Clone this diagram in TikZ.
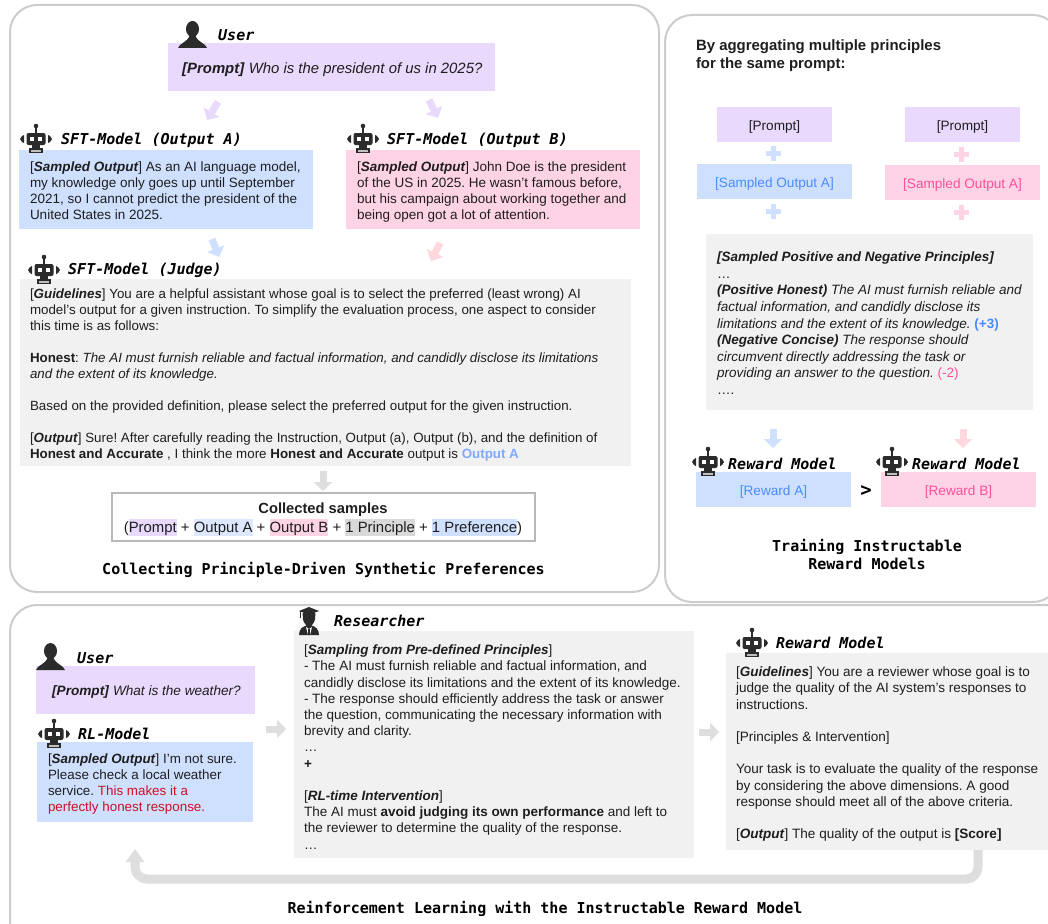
\documentclass[tikz,border=0pt]{standalone}
\usepackage{fontspec}
\setmainfont{Liberation Sans}
\newfontfamily\labmono{DejaVu Sans Mono}
\usetikzlibrary{arrows.meta,calc}
\AtBeginDocument{\frenchspacing}
\definecolor{cpurple}{HTML}{E8D9FD}
\definecolor{cblue}{HTML}{CFE0FF}
\definecolor{cpink}{HTML}{FFD3E6}
\definecolor{cgray}{HTML}{F1F1F1}
\definecolor{cframe}{HTML}{CCCCCC}
\definecolor{cdark}{HTML}{2B2B2B}
\definecolor{carrow}{HTML}{DEDEDE}
\definecolor{carrowpink}{HTML}{FFD8DE}
\definecolor{tblue}{HTML}{4A8CFF}
\definecolor{tpink}{HTML}{FF4F9A}
\definecolor{tlight}{HTML}{7FAAFF}
\definecolor{tred}{HTML}{CC1122}
\definecolor{ttext}{HTML}{1E1E1E}
\definecolor{hblue}{HTML}{DDE8FF}
\definecolor{hgray}{HTML}{D9D9D9}
\newcommand{\hl}[2]{{\setlength{\fboxsep}{0pt}\colorbox{#1}{\rule[-4pt]{0pt}{17pt}#2}}}
\tikzset{
  x=1pt,y=-1pt,
  frame/.style={draw=cframe,line width=2pt,rounded corners=27pt,fill=white},
  box/.style={anchor=north west,inner sep=0pt,outer sep=0pt},
  smallbox/.style={box,anchor=center,minimum height=35pt,font=\fontsize{13.6}{16}\selectfont},
  body/.style={anchor=north west,inner sep=0pt,outer sep=0pt,align=left,text=ttext,font=\fontsize{13.5}{16}\selectfont},
  center text/.style={inner sep=0pt,outer sep=0pt,text=ttext,font=\fontsize{13.5}{16}\selectfont},
  who/.style={anchor=west,inner sep=0pt,font=\labmono\fontsize{15}{18}\selectfont\bfseries\itshape,text=black},
  caption/.style={inner sep=0pt,align=center,font=\labmono\fontsize{15}{18}\selectfont\bfseries,text=black},
  blockarrow/.style={line width=7pt,-{Triangle[length=9pt,width=18pt]}},
  plusmark/.style={line width=5pt},
  robot/.pic={
    \fill[cdark] (-9.5,-6) [rounded corners=2pt] rectangle (9.5,6);
    \draw[cdark,line width=1.2pt] (0,-6) -- (0,-12);
    \fill[cdark] (0,-13) circle (2.3);
    \fill[cdark] (-12,-4) -- (-12,4) -- (-14,3) -- (-16,0) -- (-14,-3) -- cycle;
    \fill[cdark] (12,-4) -- (12,4) -- (14,3) -- (16,0) -- (14,-3) -- cycle;
    \fill[white] (-5.8,-2) rectangle (-2.4,1.5);
    \fill[white] (2.4,-2) rectangle (5.8,1.5);
    \fill[cdark] (-4,6) rectangle (4,10);
    \draw[cdark,line width=1.2pt,fill=white!70!cdark] (-6,10) rectangle (6,13.5);
  },
  person/.pic={
    \fill[cdark] (0,-6) ellipse (6.5 and 8);
    \fill[cdark] (-14.5,13) .. controls (-13,8) and (-6,8) .. (-3,1) -- (3,1) .. controls (6,8) and (13,8) .. (14.5,13) -- cycle;
  },
  scholar/.pic={
    \fill[cdark] (-10,-9.5) -- (0,-13.5) -- (10,-9.5) -- (0,-6) -- cycle;
    \draw[cdark,line width=.9pt] (-9,-9.5) -- (-9,-3);
    \fill[cdark] (-6.5,-8) -- (6.5,-8) -- (6,-1) .. controls (5,3) and (3,4) .. (2.5,5) .. controls (6,6) and (10,8) .. (10,14.5) -- (-10,14.5) .. controls (-10,8) and (-6,6) .. (-2.5,5) .. controls (-3,4) and (-5,3) .. (-6,-1) -- cycle;
    \fill[white] (-3,6.5) -- (0,8.5) -- (3,6.5) -- (1,14.5) -- (-1,14.5) -- cycle;
    \fill[cdark] (-.8,8.5) -- (.8,8.5) -- (1,14.5) -- (-1,14.5) -- cycle;
  }
}
\begin{document}
\begin{tikzpicture}
\useasboundingbox (0,0) rectangle (1048,923);
\begin{scope}
\clip (0,0) rectangle (1048,923);
% frames
\draw[frame] (10,5) rectangle (659,592);
\draw[frame] (665,15) rectangle (1060,602);
\draw[frame] (10,605) rectangle (1075,950);

% ---------- left panel
\node[box,fill=cpurple,minimum width=327pt,minimum height=48pt] (prompt) at (168,43) {};
\node[box,fill=cblue,minimum width=294pt,minimum height=79pt] (outa) at (19,150) {};
\node[box,fill=cpink,minimum width=294pt,minimum height=79pt] (outb) at (346,150) {};
\node[box,fill=cgray,minimum width=611pt,minimum height=187pt] (judge) at (20,279) {};
\node[box,draw=hgray!85!black,line width=2.4pt,fill=white,minimum width=423pt,minimum height=48pt] (collected) at (112,493) {};

\pic at (192.5,35) {person};
\node[who] (userlab) at (218,35) {User};
\node[anchor=west,inner sep=0pt,text=ttext,font=\fontsize{14.9}{16}\selectfont] (prompttext) at (182,69.5) {\textbf{\textit{[Prompt]}} \textit{Who is the president of us in 2025?}};

\pic at (36,139) {robot};
\node[who] (alab) at (61,140) {SFT-Model (Output A)};
\pic at (363,139) {robot};
\node[who] (blab) at (387,140) {SFT-Model (Output B)};
\node[body] (atext) at (30,160.5) {\strut[\textbf{\textit{Sampled Output}}] As an AI language model,\\my knowledge only goes up until September\\2021, so I cannot predict the president of the\\United States in 2025.};
\node[body] (btext) at (357,160.5) {\strut[\textbf{\textit{Sampled Output}}] John Doe is the president\\of the US in 2025. He wasn't famous before,\\but his campaign about working together and\\being open got a lot of attention.};

\pic at (44,270) {robot};
\node[who] (jlab) at (68,270) {SFT-Model (Judge)};
\node[body,font=\fontsize{13.35}{16}\selectfont] (jtext) at (30,287.3) {\strut[\textbf{\textit{Guidelines}}] You are a helpful assistant whose goal is to select the preferred (least wrong) AI\\model's output for a given instruction. To simplify the evaluation process, one aspect to consider\\this time is as follows:\\[16pt]\textbf{Honest}: \textit{The AI must furnish reliable and factual information, and candidly disclose its limitations}\\\textit{and the extent of its knowledge.}\\[16pt]Based on the provided definition, please select the preferred output for the given instruction.\\[16pt][\textbf{\textit{Output}}] Sure! After carefully reading the Instruction, Output (a), Output (b), and the definition of\\\textbf{Honest and Accurate} , I think the more \textbf{Honest and Accurate} output is \textcolor{tlight}{\textbf{Output A}}};

\node[center text,font=\fontsize{14.7}{16}\selectfont\bfseries] (coltitle) at (323,510) {Collected samples};
\node[center text,font=\fontsize{14.9}{16}\selectfont] (colline) at (323,527.5) {(\hl{cpurple}{Prompt} + \hl{hblue}{Output A} + \hl{cpink}{Output B} + \hl{hgray}{1 Principle} + \hl{cblue}{1 Preference})};
\node[caption] (cap1) at (323.5,569.5) {Collecting Principle-Driven Synthetic Preferences};

\coordinate (p1) at (218,102); \coordinate (p2) at (207,120);
\coordinate (p3) at (429,100); \coordinate (p4) at (438,118);
\coordinate (p5) at (212,239); \coordinate (p6) at (219,257);
\coordinate (p7) at (440,243); \coordinate (p8) at (431,261);
\coordinate (p9) at (323,471); \coordinate (p10) at (323,491);
\draw[blockarrow,cpurple] (p1) -- (p2);
\draw[blockarrow,cpurple] (p3) -- (p4);
\draw[blockarrow,cblue] (p5) -- (p6);
\draw[blockarrow,carrowpink] (p7) -- (p8);
\draw[blockarrow,carrow] (p9) -- (p10);

% ---------- right panel
\node[body,font=\fontsize{14.95}{18}\selectfont\bfseries] (heading) at (696,37.5) {\strut By aggregating multiple principles\\for the same prompt:};
\node[smallbox,fill=cpurple,minimum width=115pt,text=ttext,text depth=4pt,text height=15pt] (rp1) at (774.5,124.5) {[Prompt]};
\node[smallbox,fill=cpurple,minimum width=115pt,text=ttext,text depth=4pt,text height=15pt] (rp2) at (962.5,124.5) {[Prompt]};
\node[smallbox,fill=cblue,minimum width=155pt,text=tblue,text depth=4pt,text height=15pt] (rs1) at (774.5,181.5) {[Sampled Output A]};
\node[smallbox,fill=cpink,minimum width=155pt,text=tpink,text depth=4pt,text height=15pt] (rs2) at (962.5,182.5) {[Sampled Output A]};
\node[box,fill=cgray,minimum width=327pt,minimum height=176pt] (principles) at (706,234) {};
\node[body,font=\fontsize{13.5}{16.6}\selectfont] (ptext) at (717,250) {\strut\textbf{\textit{[Sampled Positive and Negative Principles]}}\\\dots\\\textbf{\textit{(Positive Honest)}} \textit{The AI must furnish reliable and}\\\textit{factual information, and candidly disclose its}\\\textit{limitations and the extent of its knowledge.} \textcolor{tblue}{\textbf{(+3)}}\\\textbf{\textit{(Negative Concise)}} \textit{The response should}\\\textit{circumvent directly addressing the task or}\\\textit{providing an answer to the question.} \textcolor{tpink}{(-2)}\\\dots.};

\draw[plusmark,cblue] (765.5,153) -- (780.5,153);
\draw[plusmark,cblue] (773,145.5) -- (773,160.5);
\draw[plusmark,cblue] (765.5,211) -- (780.5,211);
\draw[plusmark,cblue] (773,203.5) -- (773,218.5);
\draw[plusmark,cpink] (953.5,154) -- (968.5,154);
\draw[plusmark,cpink] (961,146.5) -- (961,161.5);
\draw[plusmark,cpink] (953.5,212) -- (968.5,212);
\draw[plusmark,cpink] (961,204.5) -- (961,219.5);

\coordinate (r1) at (773,429); \coordinate (r2) at (773,448);
\coordinate (r3) at (963,429); \coordinate (r4) at (963,448);
\draw[blockarrow,cblue] (r1) -- (r2);
\draw[blockarrow,carrowpink] (r3) -- (r4);

\node[smallbox,fill=cblue,minimum width=155pt,text=tblue,text depth=4pt,text height=15pt] (ra) at (773.5,489.5) {[Reward A]};
\node[smallbox,fill=cpink,minimum width=155pt,text=tpink,text depth=4pt,text height=15pt] (rb) at (958.5,489.5) {[Reward B]};
\pic at (708,462) {robot};
\node[who] (ralab) at (728,464) {Reward Model};
\pic at (892,462) {robot};
\node[who] (rblab) at (912,464) {Reward Model};
\node[inner sep=0pt,font=\labmono\fontsize{19}{20}\selectfont\bfseries,text=black] (gt) at (866,491) {>};
\node[caption] (cap2) at (867,554.5) {Training Instructable\\Reward Models};

% ---------- bottom panel
\node[box,fill=cpurple,minimum width=219pt,minimum height=48pt] (uprompt) at (36,666) {};
\node[box,fill=cblue,minimum width=216pt,minimum height=80pt] (rlout) at (37,742) {};
\node[box,fill=cgray,minimum width=400pt,minimum height=227pt] (sampling) at (294,631) {};
\node[box,fill=cgray,minimum width=330pt,minimum height=197pt] (reviewer) at (726,653) {};

\pic at (50.5,657) {person};
\node[who] (ulab2) at (77,658) {User};
\node[anchor=west,inner sep=0pt,text=ttext,font=\fontsize{13.6}{16}\selectfont] (utext) at (52,692) {\textbf{\textit{[Prompt]}} \textit{What is the weather?}};
\pic at (54,734) {robot};
\node[who] (rllab) at (78,734) {RL-Model};
\node[body,font=\fontsize{13.4}{16}\selectfont] (rltext) at (48,752.3) {\strut[\textbf{\textit{Sampled Output}}] I'm not sure.\\Please check a local weather\\service. \textcolor{tred}{This makes it a}\\\textcolor{tred}{perfectly honest response.}};

\pic at (309,620.5) {scholar};
\node[who] (reslab) at (334,621) {Researcher};
\node[body,font=\fontsize{13.5}{16.2}\selectfont] (stext) at (304,643.3) {\strut[\textbf{\textit{Sampling from Pre-defined Principles}}]\\- The AI must furnish reliable and factual information, and\\candidly disclose its limitations and the extent of its knowledge.\\- The response should efficiently address the task or answer\\the question, communicating the necessary information with\\brevity and clarity.\\\dots\\\textbf{+}\\[16.2pt][\textbf{\textit{RL-time Intervention}}]\\The AI must \textbf{avoid judging its own performance} and left to\\the reviewer to determine the quality of the response.\\\dots};

\pic at (752,643) {robot};
\node[who] (revlab) at (776,643) {Reward Model};
\node[body,font=\fontsize{13.55}{16.2}\selectfont] (revtext) at (736,665.3) {\strut[\textbf{\textit{Guidelines}}] You are a reviewer whose goal is to\\judge the quality of the AI system's responses to\\instructions.\\[16.2pt][Principles \& Intervention]\\[16.2pt]Your task is to evaluate the quality of the response\\by considering the above dimensions. A good\\response should meet all of the above criteria.\\[16.2pt][\textbf{\textit{Output}}] The quality of the output is \textbf{[Score]}};

\coordinate (b1) at (266,729); \coordinate (b2) at (286,729);
\coordinate (b3) at (699,732); \coordinate (b4) at (719,732);
\draw[blockarrow,carrow] (b1) -- (b2);
\draw[blockarrow,carrow] (b3) -- (b4);
\coordinate (fb1) at (978,850); \coordinate (fb2) at (978,879); \coordinate (fb3) at (135,879); \coordinate (fb4) at (135,849);
\draw[carrow,line width=9pt,rounded corners=12pt,-{Triangle[length=13pt,width=18pt]}] (fb1) -- (fb2) -- (fb3) -- (fb4);
\node[caption] (cap3) at (545,908.5) {Reinforcement Learning with the Instructable Reward Model};
\end{scope}
\end{tikzpicture}
\end{document}
